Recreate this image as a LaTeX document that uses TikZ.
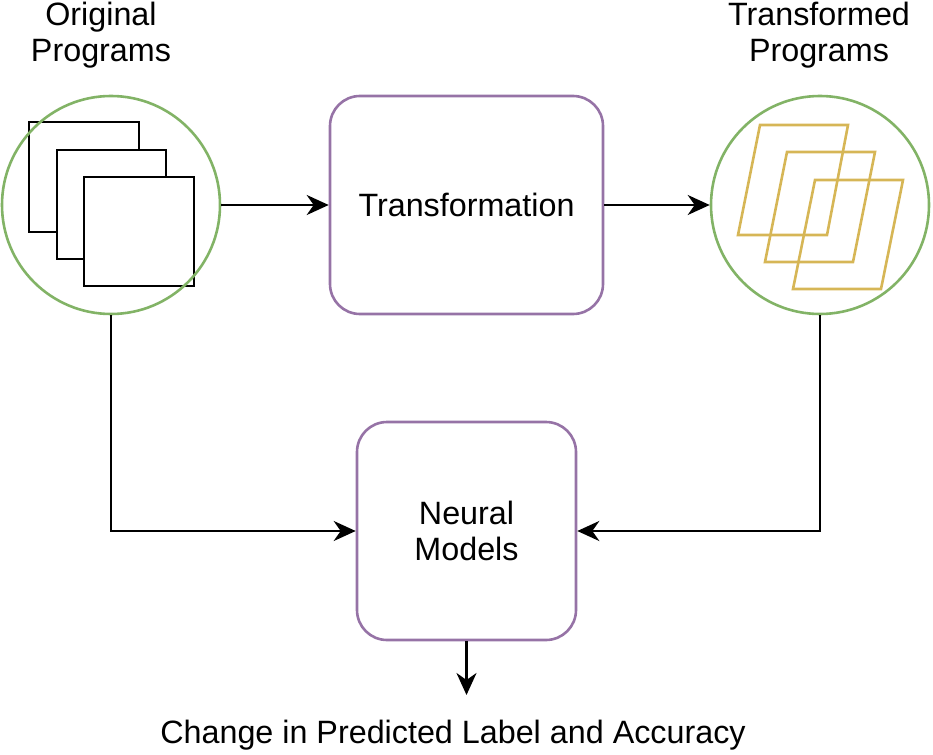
\documentclass[tikz,border=0pt]{standalone}
\usepackage{fontspec}
\setmainfont{Liberation Sans}
\usetikzlibrary{arrows.meta}
\definecolor{cgreen}{HTML}{82B366}
\definecolor{cpurple}{HTML}{9673A6}
\definecolor{cgold}{HTML}{D6B656}
\begin{document}
\begin{tikzpicture}[x=1pt,y=-1pt,
  txt/.style={font=\fontsize{32.3}{36}\selectfont, align=center, inner sep=0pt},
  ring/.style={circle, draw=cgreen, line width=2.6pt, minimum size=218pt, inner sep=0pt},
  procbox/.style={draw=cpurple, line width=2.6pt, rounded corners=30pt, inner sep=0pt, font=\fontsize{32.3}{36}\selectfont, align=center},
  conn/.style={line width=2.6pt, -{Stealth[length=22pt,width=20pt,inset=7pt]}},
  sheet/.style={draw=black, fill=white, line width=2.8pt},
  tsheet/.style={draw=cgold, line width=2.6pt, line join=miter}]
\useasboundingbox (0,0) rectangle (933,754);
% stacked sheets (original)
\draw[sheet] (29,122) rectangle (139,232);
\draw[sheet] (57,150) rectangle (166,259);
\draw[sheet] (84,177) rectangle (194,286);
\node[ring] (orig) at (111,205) {};
% transformed sheets
\draw[tsheet] (760,125) -- (848,125) -- (827,235) -- (738,235) -- cycle;
\draw[tsheet] (787,152) -- (875,152) -- (853,262) -- (765,262) -- cycle;
\draw[tsheet] (815,180) -- (903,180) -- (881,289) -- (793,289) -- cycle;
\node[ring] (tprog) at (820,205) {};
% boxes
\node[procbox, minimum width=273pt, minimum height=218pt] (trans) at (466.5,205) {Transformation};
\node[procbox, minimum width=219pt, minimum height=218pt] (neural) at (466.5,531) {Neural\\Models};
% labels
\node[txt] (lorig) at (101,35) {Original\\Programs};
\node[txt] (ltrans) at (819,35) {Transformed\\Programs};
\node[txt] (out) at (453,735) {Change in Predicted Label and Accuracy};
\coordinate (outend) at (466.5,695);
% connectors
\draw[conn] (orig.east) -- (trans.west);
\draw[conn] (trans.east) -- (tprog.west);
\draw[conn] (orig.south) |- (neural.west);
\draw[conn] (tprog.south) |- (neural.east);
\draw[conn] (neural.south) -- (outend);
\end{tikzpicture}
\end{document}
